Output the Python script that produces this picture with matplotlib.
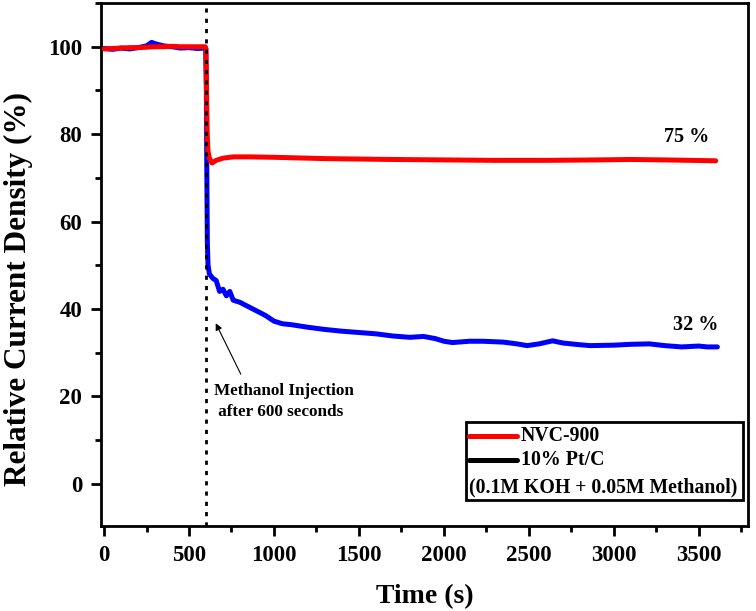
import matplotlib
matplotlib.use("Agg")
import matplotlib.pyplot as plt
from matplotlib.lines import Line2D
from matplotlib.patches import Rectangle
from matplotlib.ticker import MultipleLocator

plt.rcParams['font.family'] = ['Liberation Serif', 'DejaVu Serif']
plt.rcParams['font.weight'] = 'bold'

# NVC-900 (red)
t_red = [0, 50, 100, 150, 200, 250, 300, 350, 400, 450, 500, 550, 595, 600, 603,
         607, 612, 620, 635, 660, 700, 760, 850, 1000, 1100, 1300, 1500, 1700,
         2000, 2300, 2600, 2900, 3100, 3300, 3450, 3600]
v_red = [99.5, 99.6, 99.7, 99.8, 99.8, 99.9, 100, 100, 100.1, 100, 100, 100, 100,
         99.5, 90, 80, 76, 74.5, 73.4, 74.0, 74.5, 74.8, 74.8, 74.7, 74.6, 74.4,
         74.3, 74.2, 74.1, 74.0, 74.0, 74.1, 74.2, 74.1, 74.0, 73.9]

# 10% Pt/C (blue)
t_blue = [0, 50, 100, 150, 200, 250, 280, 300, 350, 400, 450, 500, 550, 598, 602,
          605, 608, 612, 620, 640, 660, 680, 700, 720, 740, 760, 800, 850, 900,
          950, 1000, 1050, 1100, 1200, 1300, 1400, 1500, 1600, 1700, 1800, 1880,
          1950, 2000, 2050, 2150, 2230, 2350, 2430, 2490, 2560, 2640, 2700, 2800,
          2860, 3000, 3100, 3210, 3300, 3400, 3500, 3550, 3610]
v_blue = [99.6, 99.4, 99.7, 99.5, 99.8, 100.2, 101, 100.7, 100.2, 100, 99.7, 99.8,
          99.6, 99.7, 90, 70, 55, 50, 48, 47, 46.5, 44, 44.5, 43, 44, 42, 41.5,
          40.5, 39.5, 38.5, 37.2, 36.6, 36.4, 35.8, 35.3, 34.9, 34.6, 34.3, 33.8,
          33.5, 33.7, 33.2, 32.6, 32.3, 32.6, 32.6, 32.4, 32.0, 31.6, 32.0, 32.7,
          32.2, 31.8, 31.6, 31.7, 31.9, 32.0, 31.6, 31.3, 31.5, 31.3, 31.3]

legend_labels = ["NVC-900", "10% Pt/C", "(0.1M KOH + 0.05M Methanol)"]
x_ticks = [0, 500, 1000, 1500, 2000, 2500, 3000, 3500]
y_ticks = [0, 20, 40, 60, 80, 100]

fig = plt.figure(figsize=(7.56, 6.11), dpi=100)
ax = fig.add_axes([0.1336, 0.139, 0.8558, 0.856])

ax.plot(t_blue, v_blue, color='#0000ff', lw=3.6, solid_capstyle='round', zorder=2)
ax.plot(t_red, v_red, color='#ff0000', lw=3.6, solid_capstyle='round', zorder=3)
ax.axvline(600, color='black', lw=2, linestyle=(0, (1.5, 2.2)), zorder=4)

ax.set_xlim(-18, 3790)
ax.set_ylim(-9.7, 110)
ax.set_xticks(x_ticks)
ax.set_yticks(y_ticks)
ax.xaxis.set_minor_locator(MultipleLocator(250))
ax.yaxis.set_minor_locator(MultipleLocator(10))
ax.tick_params(which='both', direction='out', top=False, right=False,
               labelsize=16.5, width=2, pad=6.5)
ax.tick_params(which='major', length=7)
ax.tick_params(which='minor', length=4)
for lab in ax.get_xticklabels() + ax.get_yticklabels():
    lab.set_fontweight('bold')
for sp in ax.spines.values():
    sp.set_linewidth(2)

ax.set_xlabel('Time (s)', fontsize=20, fontweight='bold', labelpad=13)
ax.set_ylabel('Relative Current Density (%)', fontsize=22.5, fontweight='bold')
ax.yaxis.set_label_coords(-0.105, 0.453)

ax.text(3430, 77.0, '75 %', fontsize=14.5, fontweight='bold', ha='center', va='bottom')
ax.text(3480, 34.0, '32 %', fontsize=14.5, fontweight='bold', ha='center', va='bottom')

ax.annotate('', xy=(650, 37.3), xytext=(812, 24.5),
            arrowprops=dict(arrowstyle='-|>', color='black', lw=0.8,
                            mutation_scale=10))
ax.text(650, 18.8, 'Methanol Injection\n after 600 seconds', fontsize=12.3,
        fontweight='bold', ha='left', va='center', linespacing=1.35)

# legend box (axes coordinates)
def px2ax(px, py):
    x0, x1 = 101, 748
    y0, y1 = 526, 3
    return (px - x0) / (x1 - x0), (y0 - py) / (y0 - y1)

bx0, by0 = px2ax(466, 500)
bx1, by1 = px2ax(743, 422)
ax.add_patch(Rectangle((bx0, by0), bx1 - bx0, by1 - by0, transform=ax.transAxes,
                       fill=True, facecolor='white', edgecolor='black', lw=2, zorder=5))
hx0, hy = px2ax(469, 436)
hx1, _ = px2ax(517, 436)
tx, _ = px2ax(521, 436)
ax.add_line(Line2D([hx0, hx1], [hy, hy], transform=ax.transAxes, color='#ff0000',
                   lw=3.6, solid_capstyle='round', zorder=6))
ax.text(tx, hy, legend_labels[0], transform=ax.transAxes, fontsize=14.3,
        fontweight='bold', va='center', ha='left', zorder=6)
_, hy2 = px2ax(469, 460)
ax.add_line(Line2D([hx0, hx1], [hy2, hy2], transform=ax.transAxes, color='black',
                   lw=3.6, solid_capstyle='round', zorder=6))
ax.text(tx, hy2, legend_labels[1], transform=ax.transAxes, fontsize=14.3,
        fontweight='bold', va='center', ha='left', zorder=6)
t3x, t3y = px2ax(469, 487)
ax.text(t3x, t3y, legend_labels[2], transform=ax.transAxes, fontsize=14.2,
        fontweight='bold', va='center', ha='left', zorder=6)

fig.savefig('out.png', dpi=100)
